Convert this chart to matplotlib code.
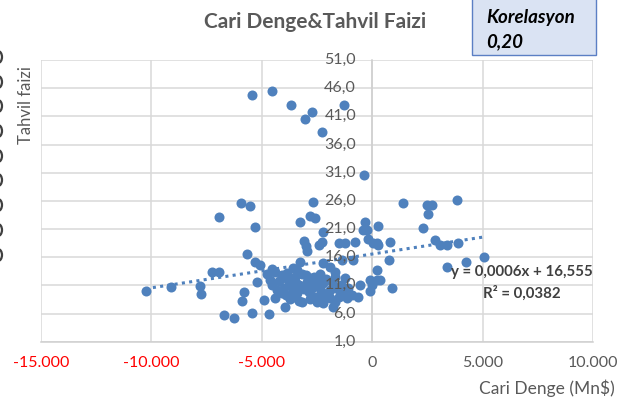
import matplotlib
matplotlib.use('Agg')
import matplotlib.pyplot as plt
import matplotlib.transforms as mtransforms
from matplotlib.patches import Rectangle, Arc

plt.rcParams['font.family'] = ['Lato', 'DejaVu Sans']

# Cari denge (Mn$) ve tahvil faizi (%)
cari_denge = [
    -10250, -9080, -7770, -7740, -7240, -6940, -6940, -6720, -6270, -5930,
    -5540, -5320, -5660, -5290, -5060, -5210, -4910, -5810, -5890, -5430,
    -4680, -4530, -4750,
    -5430, -4530, -3660, -2720, -3030, -2270, -1270, -350,
    -2680, -2800, -2580, -3250, -3060, -2970, -2950, -2270, -2200, -1520,
    -1220, -770, -390, -170, 210, 810, 780, -320, 290, -240, 60, 290, -2420,
    -2200, -1900, -1670, -1370, -850, -1220, -540, -920, -620, -1520, -1670,
    -10, -90, 210, 210, 360, 890, -2500, -2200, -1900, -2650, -2350, -1900,
    -1750, -100,
    -4530, -4300, -4380, -4080, -3890, -3930, -3700, -3400, -3250, -3400,
    -3180, -2950, -2650, -2580, -2720,
    -4200, -4000, -3800, -3600, -3500, -3300, -3100, -3000, -2850, -2700,
    -2500, -2300, -2100, -2000, -1800, -1700, -1400, -1300, -1100, -3700,
    -3500, -3300, -2800, -2200, -4100, -3850, -3600, -3450, -2450, -2150,
    -1550, -1150, -4600, -4400, -3150, -2350,
    1410, 2470, 2720, 2540, 3850, 2320, 2850, 3070, 3400, 3900, 4250, 5070,
    3400,
]
tahvil_faizi = [
    10.0, 10.7, 10.9, 9.4, 13.4, 13.4, 23.2, 5.7, 5.15, 25.6,
    25.0, 21.4, 16.6, 15.2, 14.6, 11.65, 8.4, 9.8, 8.2, 6.15,
    5.9, 13.85, 13.1,
    44.7, 45.55, 43.1, 41.8, 40.5, 38.3, 43.0, 30.5,
    25.85, 23.3, 22.9, 22.2, 18.9, 18.0, 17.1, 18.75, 20.5, 18.6,
    18.5, 18.75, 20.8, 19.2, 18.5, 18.75, 15.5, 22.3, 21.6, 20.8, 18.5, 18.2, 18.2,
    14.9, 14.3, 13.4, 15.5, 15.5, 12.25, 11.05, 9.3, 9.0, 9.0, 8.1,
    11.05, 11.95, 11.95, 13.7, 11.95, 10.5, 10.8, 11.35, 10.2, 12.55, 9.0, 8.7,
    7.2, 10.0,
    11.05, 10.2, 8.7, 12.8, 9.3, 7.2, 11.05, 13.7, 15.2, 9.6,
    8.1, 11.65, 11.05, 9.0, 12.25,
    11.8, 10.5, 12.0, 10.0, 12.5, 11.0, 10.3, 12.8, 9.8, 10.5,
    8.0, 10.0, 12.2, 9.5, 11.6, 12.4, 11.0, 9.8, 10.6, 8.6,
    9.0, 8.3, 8.5, 7.8, 9.6, 13.2, 14.0, 11.5, 12.0, 9.2,
    10.4, 8.7, 12.0, 13.3, 13.0, 13.0,
    25.55, 25.3, 25.3, 23.6, 26.15, 21.1, 19.05, 18.2, 18.2, 18.5, 15.2, 16.1,
    14.3,
]

trend_egim = 0.0006
trend_sabit = 16.555
x_ticks = [-15000, -10000, -5000, 0, 5000, 10000]
y_ticks = [1, 6, 11, 16, 21, 26, 31, 36, 41, 46, 51]

mavi = '#4f81bd'
gri = '#595959'
izgara = '#d9d9d9'

W, H = 634, 405
fig = plt.figure(figsize=(W / 100, H / 100), dpi=100)
ax = fig.add_axes([40.7 / W, 1 - 341.7 / H, (593 - 40.7) / W, (341.7 - 60) / H])

ax.scatter(cari_denge, tahvil_faizi, s=52, color=mavi, linewidths=0, zorder=3)

x0, x1 = min(cari_denge), max(cari_denge)
ax.plot([x0, x1], [trend_egim * x0 + trend_sabit, trend_egim * x1 + trend_sabit],
        color=mavi, lw=2.2, linestyle=(0, (1, 1.4)), zorder=4)

ax.set_xlim(-15000, 10000)
ax.set_ylim(1, 51)
ax.set_xticks(x_ticks)
ax.set_xticklabels([f'{v:,.0f}'.replace(',', '.') for v in x_ticks])
for lbl, v in zip(ax.get_xticklabels(), x_ticks):
    lbl.set_color('#ff0000' if v < 0 else gri)
    lbl.set_fontsize(11.5)
ax.set_yticks(y_ticks)
ax.set_yticklabels([])
ax.tick_params(length=0, pad=10)
ax.grid(True, color=izgara, lw=1.1)
ax.set_axisbelow(True)

for s in ['top', 'right']:
    ax.spines[s].set_visible(False)
ax.spines['left'].set_position(('data', 0))
ax.spines['left'].set_color('#cfcfcf')
ax.spines['bottom'].set_color('#cfcfcf')
ax.spines['left'].set_linewidth(1.1)
ax.spines['bottom'].set_linewidth(1.1)

etiket_tr = mtransforms.offset_copy(ax.transData, fig=fig, x=-16, y=0, units='dots')
for v in y_ticks:
    ax.text(0, v, f'{v:.1f}'.replace('.', ','), transform=etiket_tr, ha='right',
            va='center', fontsize=11.5, color=gri, zorder=6)

fig.text(315 / W, 1 - 21.7 / H, 'Cari Denge&Tahvil Faizi', ha='center', va='center',
         fontsize=15, fontweight='bold', color=gri)

fig.patches.append(Rectangle((472 / W, 1 - 55 / H), 124 / W, 60 / H, transform=fig.transFigure,
                             facecolor='#dae3f3', edgecolor='#5b7fc4', lw=1.0, zorder=1))
fig.text(486 / W, 1 - 17 / H, 'Korelasyon', ha='left', va='center', fontsize=13.5,
         fontweight='bold', fontstyle='italic', color='black')
fig.text(486 / W, 1 - 42 / H, '0,20', ha='left', va='center', fontsize=13.5,
         fontweight='bold', fontstyle='italic', color='black')

fig.text(522 / W, 1 - 271.7 / H, 'y = 0,0006x + 16,555', ha='center', va='center',
         fontsize=10.8, fontweight='bold', color='#404040', zorder=7)
fig.text(522 / W, 1 - 292.7 / H, 'R² = 0,0382', ha='center', va='center',
         fontsize=10.8, fontweight='bold', color='#404040', zorder=7)

fig.text(615 / W, 1 - 388 / H, 'Cari Denge (Mn$)', ha='right', va='center',
         fontsize=12.5, color=gri)
fig.text(26 / W, 1 - 105 / H, 'Tahvil faizi', ha='center', va='center', rotation=90,
         fontsize=12, color=gri)

# soldaki kesik karakter parcalari (yan grafikten kalan), yay olarak cizildi
for py in [57, 82, 106, 131, 156, 180, 205, 230, 255]:
    fig.patches.append(Arc((-2 / W, 1 - py / H), 8 / W, 12 / H, theta1=-90, theta2=90,
                           transform=fig.transFigure, color='#404040', lw=1.6))

fig.savefig('out.png', dpi=100)
